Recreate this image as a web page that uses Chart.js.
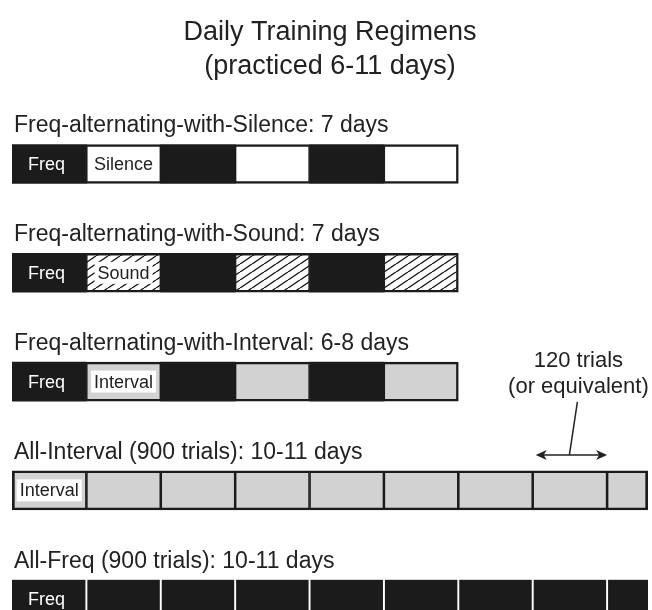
<!DOCTYPE html>
<html>
<head>
<meta charset="utf-8">
<title>Daily Training Regimens</title>
<script src="https://cdn.jsdelivr.net/npm/chart.js@4.4.0/dist/chart.umd.min.js"></script>
<style>
  html, body { margin: 0; padding: 0; background: #fff; overflow: hidden; }
  canvas { display: block; }
</style>
</head>
<body>
<canvas id="regimens" width="652" height="660"></canvas>
<script>
// one row per regimen, top to bottom
const regimens = [
  'Freq-alternating-with-Silence: 7 days',
  'Freq-alternating-with-Sound: 7 days',
  'Freq-alternating-with-Interval: 6-8 days',
  'All-Interval (900 trials): 10-11 days',
  'All-Freq (900 trials): 10-11 days'
];
// length of every block, in trials
const blockTrials = [
  [120, 120, 120, 120, 120, 120],
  [120, 120, 120, 120, 120, 120],
  [120, 120, 120, 120, 120, 120],
  [120, 120, 120, 120, 120, 120, 120, 120, 66],
  [120, 120, 120, 120, 120, 120, 120, 120, 66]
];
// kind of every block
const blockKinds = [
  ['Freq', 'Silence', 'Freq', 'Silence', 'Freq', 'Silence'],
  ['Freq', 'Sound', 'Freq', 'Sound', 'Freq', 'Sound'],
  ['Freq', 'Interval', 'Freq', 'Interval', 'Freq', 'Interval'],
  ['Interval', 'Interval', 'Interval', 'Interval', 'Interval', 'Interval', 'Interval', 'Interval', 'Interval'],
  ['Freq', 'Freq', 'Freq', 'Freq', 'Freq', 'Freq', 'Freq', 'Freq', 'Freq']
];
// text written in the first blocks of each row
const blockNames = [
  ['Freq', 'Silence'],
  ['Freq', 'Sound'],
  ['Freq', 'Interval'],
  ['Interval'],
  ['Freq']
];
// note about one block length (arrow spans trials 840-960 of the All-Interval row)
const noteLines = ['120 trials', '(or equivalent)'];
const noteRow = 3;
const noteFrom = 840;
const noteTo = 960;
const trialMax = 1026;

const BLACK = '#1b1b1b';
const GREY = '#d2d2d2';
const INK = '#222';
const FONT = '"Liberation Sans", Arial, sans-serif';

// diagonal hatch for the Sound blocks
function makeHatch() {
  const w = 12, h = 8;
  const c = document.createElement('canvas');
  c.width = w; c.height = h;
  const g = c.getContext('2d');
  g.fillStyle = '#fff';
  g.fillRect(0, 0, w, h);
  g.strokeStyle = BLACK;
  g.lineWidth = 1.4;
  [-w, 0, w].forEach((dx) => {
    g.beginPath();
    g.moveTo(dx, h);
    g.lineTo(dx + w, 0);
    g.stroke();
  });
  return g.createPattern(c, 'repeat');
}
const hatch = makeHatch();

function fillFor(kind) {
  if (kind === 'Freq') return BLACK;
  if (kind === 'Silence') return '#fff';
  if (kind === 'Sound') return hatch;
  return GREY;
}

function bordersFor(i, j) {
  const kinds = blockKinds[i];
  if (!kinds || j === undefined) return 0;
  const last = j === kinds.length - 1;
  const allSame = kinds.every((k) => k === kinds[0]);
  if (allSame && kinds[j] === 'Freq') {
    return { top: 0, bottom: 0, left: j === 0 ? 0 : 1.3, right: last ? 0 : 1.3 };
  }
  if (allSame) {
    return { top: 2.5, bottom: 2.5, left: j === 0 ? 3 : 1.6, right: last ? 3 : 1.6 };
  }
  if (kinds[j] === 'Freq') return { top: 0, bottom: 0, left: 0, right: 0 };
  return { top: 2.5, bottom: 2.5, left: 1.5, right: last ? 2.5 : 1.5 };
}

const segCount = Math.max(...blockTrials.map((r) => r.length));
const datasets = [];
for (let j = 0; j < segCount; j++) {
  datasets.push({
    label: 'block ' + (j + 1),
    data: blockTrials.map((r) => (r[j] !== undefined ? r[j] : null)),
    backgroundColor: blockKinds.map((r) => fillFor(r[j])),
    borderColor: blockKinds.map((r) => (r.every((k) => k === 'Freq') ? '#fff' : BLACK)),
    borderWidth: (ctx) => bordersFor(ctx.dataIndex, ctx.datasetIndex),
    borderSkipped: false,
    barThickness: 39
  });
}

// labels, block names and the "120 trials" note
const drawNotes = {
  id: 'drawNotes',
  afterDatasetsDraw(chart) {
    const ctx = chart.ctx;
    const xs = chart.scales.x;
    ctx.save();
    regimens.forEach((label, i) => {
      const bar = chart.getDatasetMeta(0).data[i];
      const top = bar.y - bar.height / 2;
      ctx.font = '23px ' + FONT;
      ctx.fillStyle = INK;
      ctx.textAlign = 'left';
      ctx.textBaseline = 'alphabetic';
      ctx.fillText(label, 14, top - 12);

      blockNames[i].forEach((name, j) => {
        const el = chart.getDatasetMeta(j).data[i];
        const left = Math.min(el.base, el.x);
        const right = Math.max(el.base, el.x);
        ctx.font = '18px ' + FONT;
        ctx.textBaseline = 'middle';
        const w = ctx.measureText(name).width;
        if (blockKinds[i][j] === 'Freq') {
          ctx.fillStyle = '#fff';
          ctx.fillText(name, left + 16, el.y + 1);
        } else {
          const tx = (left + right) / 2 - w / 2;
          if (blockKinds[i][j] !== 'Silence') {
            ctx.fillStyle = '#fff';
            ctx.fillRect(tx - 3, el.y - 11, w + 6, 22);
          }
          ctx.fillStyle = INK;
          ctx.fillText(name, tx, el.y + 1);
        }
      });
    });

    // arrow over one block of the All-Interval row
    const nbar = chart.getDatasetMeta(0).data[noteRow];
    const ay = nbar.y - nbar.height / 2 - 16;
    const x0 = xs.getPixelForValue(noteFrom) + 3;
    const x1 = xs.getPixelForValue(noteTo);
    const mid = (x0 + x1) / 2;
    ctx.strokeStyle = INK;
    ctx.fillStyle = INK;
    ctx.lineWidth = 1.5;
    ctx.beginPath();
    ctx.moveTo(x0 + 4, ay);
    ctx.lineTo(x1 - 4, ay);
    ctx.moveTo(mid - 2, ay);
    ctx.lineTo(mid + 6, ay - 53);
    ctx.stroke();
    [[x0, 1], [x1, -1]].forEach(([px, d]) => {
      ctx.beginPath();
      ctx.moveTo(px, ay);
      ctx.lineTo(px + d * 11, ay - 5);
      ctx.lineTo(px + d * 8, ay);
      ctx.lineTo(px + d * 11, ay + 5);
      ctx.closePath();
      ctx.fill();
    });
    ctx.font = '22px ' + FONT;
    ctx.textAlign = 'center';
    ctx.textBaseline = 'alphabetic';
    ctx.fillText(noteLines[0], mid + 7, ay - 88);
    ctx.fillText(noteLines[1], mid + 7, ay - 62);
    ctx.restore();
  }
};

new Chart(document.getElementById('regimens'), {
  type: 'bar',
  data: { labels: regimens, datasets: datasets },
  options: {
    indexAxis: 'y',
    responsive: false,
    devicePixelRatio: 1,
    animation: false,
    layout: { padding: { left: 12, right: 4, top: 0, bottom: 6.4 } },
    scales: {
      x: { stacked: true, min: 0, max: trialMax, display: false },
      y: { stacked: true, display: false }
    },
    plugins: {
      legend: { display: false },
      tooltip: { enabled: false },
      title: {
        display: true,
        text: ['Daily Training Regimens', '(practiced 6-11 days)'],
        color: INK,
        font: { family: FONT, size: 27, weight: 'normal', lineHeight: 1.24 },
        padding: { top: 16, bottom: 26.6 }
      }
    }
  },
  plugins: [drawNotes]
});
</script>
</body>
</html>
